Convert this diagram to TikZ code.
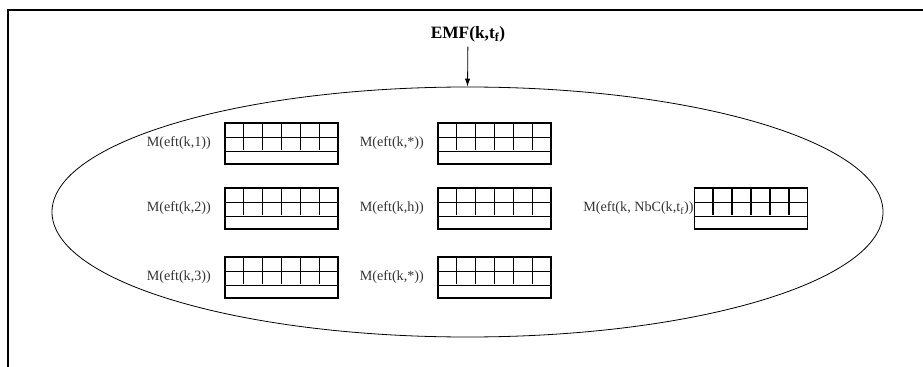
\documentclass[tikz,border=0pt]{standalone}
\usepackage{fontspec}
\setmainfont{Liberation Serif}
\usepackage{tikz}
\usetikzlibrary{arrows.meta,positioning,shapes.geometric,calc}
\definecolor{efgrey}{HTML}{333333}

\begin{document}
\begin{tikzpicture}[x=0.75pt,y=-0.75pt,
  every node/.style={font=\fontsize{10.6}{12}\selectfont,text=efgrey},
  tab/.style={draw,line width=0.9pt,minimum width=84.75pt,minimum height=30.75pt,inner sep=0pt},
  lab/.style={inner sep=0pt},
  top/.style={font=\fontsize{13}{15}\selectfont\bfseries,text=black},
  set/.style={draw,ellipse,line width=0.6pt,minimum width=623.25pt,minimum height=187.5pt,inner sep=0pt}]
\useasboundingbox (0,0) rectangle (923,367);
% frame
\draw[line width=1.5pt] (8,367) -- (8,10) -- (924,10);
% the set
\node[set] (ell) at (467.5,212) {};
\node[top] (emf) at (468,34) {EMF(k,t\textsubscript{f})};
\draw[-{Latex[length=6pt,width=4pt]},line width=0.6pt] (emf) -- (ell.north);
% tables
\node[tab] (t11) at (281.5,143.5) {};
\node[tab] (t12) at (494.5,143.5) {};
\node[tab] (t21) at (281.5,208.5) {};
\node[tab] (t22) at (494.5,208.5) {};
\node[tab] (t23) at (751,208.5) {};
\node[tab] (t31) at (281.5,277.5) {};
\node[tab] (t32) at (494.5,277.5) {};
\foreach \t in {t11,t12,t21,t22,t23,t31,t32} {
  \draw[line width=0.9pt] ($(\t.north west)!15/41!(\t.south west)$) -- ($(\t.north east)!15/41!(\t.south east)$);
  \draw[line width=0.9pt] ($(\t.north west)!28/41!(\t.south west)$) -- ($(\t.north east)!28/41!(\t.south east)$);
  \foreach \i in {1,...,5}
    \draw[line width=0.9pt] ($(\t.north west)!\i/6!(\t.north east)$) -- ++(0,28);
}
% labels
\node[lab,left=10pt of t11] (l11) {M(eft(k,1))};
\node[lab,left=10pt of t12] (l12) {M(eft(k,*))};
\node[lab,left=10pt of t21] (l21) {M(eft(k,2))};
\node[lab,left=10pt of t22] (l22) {M(eft(k,h))};
\node[lab,left=0pt of t23] (l23) {M(eft(k, NbC(k,t\textsubscript{f}))};
\node[lab,left=10pt of t31] (l31) {M(eft(k,3))};
\node[lab,left=10pt of t32] (l32) {M(eft(k,*))};
\end{tikzpicture}
\end{document}
